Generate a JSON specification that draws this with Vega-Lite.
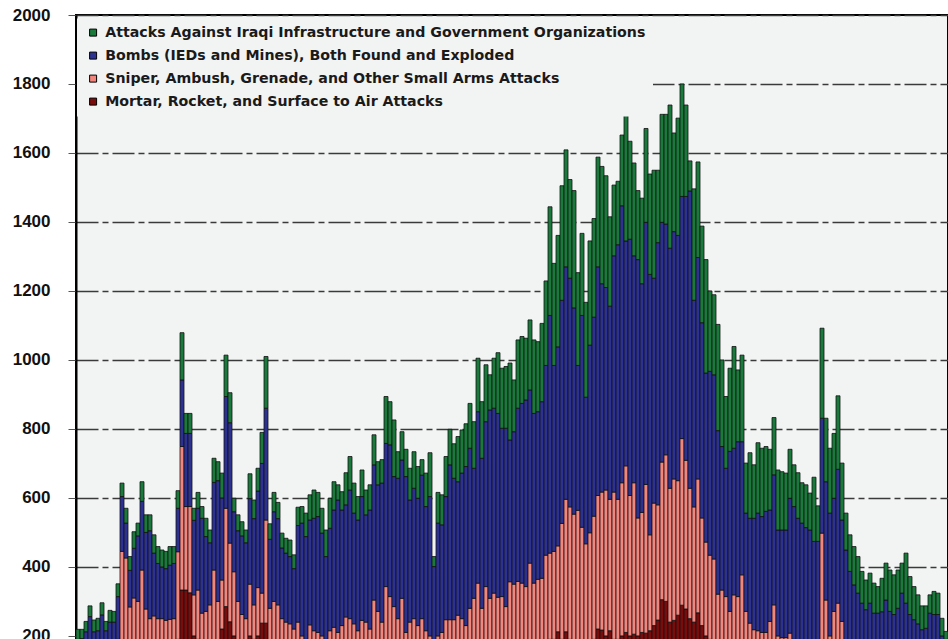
{
"$schema":"https://vega.github.io/schema/vega-lite/v6.json",
"width":872,"height":624,
"autosize":{"type":"none"},
"padding":{"left":76,"top":15,"right":0,"bottom":0},
"background":"white",
"config":{"view":{"fill":"#f2f3f3","stroke":"#000","strokeWidth":2},"font":"Liberation Sans"},
"data":{"values":[
{"week":0,"1_mortar":70,"2_arms":60,"3_bombs":60,"4_infra":29},
{"week":1,"1_mortar":70,"2_arms":60,"3_bombs":62,"4_infra":27},
{"week":2,"1_mortar":70,"2_arms":70,"3_bombs":72,"4_infra":30},
{"week":3,"1_mortar":80,"2_arms":70,"3_bombs":106,"4_infra":31},
{"week":4,"1_mortar":70,"2_arms":70,"3_bombs":72,"4_infra":34},
{"week":5,"1_mortar":70,"2_arms":70,"3_bombs":75,"4_infra":36},
{"week":6,"1_mortar":80,"2_arms":80,"3_bombs":101,"4_infra":35},
{"week":7,"1_mortar":70,"2_arms":70,"3_bombs":75,"4_infra":27},
{"week":8,"1_mortar":80,"2_arms":70,"3_bombs":90,"4_infra":34},
{"week":9,"1_mortar":80,"2_arms":70,"3_bombs":90,"4_infra":31},
{"week":10,"1_mortar":90,"2_arms":100,"3_bombs":124,"4_infra":37},
{"week":11,"1_mortar":150,"2_arms":295,"3_bombs":159,"4_infra":39},
{"week":12,"1_mortar":150,"2_arms":276,"3_bombs":101,"4_infra":43},
{"week":13,"1_mortar":140,"2_arms":144,"3_bombs":106,"4_infra":40},
{"week":14,"1_mortar":150,"2_arms":160,"3_bombs":144,"4_infra":48},
{"week":15,"1_mortar":150,"2_arms":150,"3_bombs":190,"4_infra":37},
{"week":16,"1_mortar":160,"2_arms":231,"3_bombs":199,"4_infra":57},
{"week":17,"1_mortar":150,"2_arms":128,"3_bombs":222,"4_infra":51},
{"week":18,"1_mortar":140,"2_arms":110,"3_bombs":255,"4_infra":46},
{"week":19,"1_mortar":140,"2_arms":118,"3_bombs":182,"4_infra":53},
{"week":20,"1_mortar":140,"2_arms":110,"3_bombs":160,"4_infra":49},
{"week":21,"1_mortar":130,"2_arms":120,"3_bombs":150,"4_infra":49},
{"week":22,"1_mortar":130,"2_arms":115,"3_bombs":150,"4_infra":50},
{"week":23,"1_mortar":140,"2_arms":108,"3_bombs":157,"4_infra":54},
{"week":24,"1_mortar":150,"2_arms":100,"3_bombs":160,"4_infra":49},
{"week":25,"1_mortar":190,"2_arms":254,"3_bombs":126,"4_infra":51},
{"week":26,"1_mortar":333,"2_arms":416,"3_bombs":193,"4_infra":137},
{"week":27,"1_mortar":333,"2_arms":242,"3_bombs":212,"4_infra":58},
{"week":28,"1_mortar":325,"2_arms":250,"3_bombs":212,"4_infra":58},
{"week":29,"1_mortar":200,"2_arms":119,"3_bombs":216,"4_infra":35},
{"week":30,"1_mortar":190,"2_arms":143,"3_bombs":237,"4_infra":46},
{"week":31,"1_mortar":170,"2_arms":96,"3_bombs":275,"4_infra":34},
{"week":32,"1_mortar":160,"2_arms":111,"3_bombs":217,"4_infra":53},
{"week":33,"1_mortar":170,"2_arms":120,"3_bombs":180,"4_infra":37},
{"week":34,"1_mortar":180,"2_arms":211,"3_bombs":254,"4_infra":70},
{"week":35,"1_mortar":180,"2_arms":120,"3_bombs":350,"4_infra":55},
{"week":36,"1_mortar":220,"2_arms":142,"3_bombs":238,"4_infra":72},
{"week":37,"1_mortar":285,"2_arms":285,"3_bombs":324,"4_infra":120},
{"week":38,"1_mortar":241,"2_arms":228,"3_bombs":349,"4_infra":87},
{"week":39,"1_mortar":200,"2_arms":186,"3_bombs":174,"4_infra":39},
{"week":40,"1_mortar":170,"2_arms":130,"3_bombs":205,"4_infra":46},
{"week":41,"1_mortar":160,"2_arms":102,"3_bombs":228,"4_infra":41},
{"week":42,"1_mortar":150,"2_arms":100,"3_bombs":220,"4_infra":37},
{"week":43,"1_mortar":200,"2_arms":150,"3_bombs":248,"4_infra":72},
{"week":44,"1_mortar":190,"2_arms":100,"3_bombs":250,"4_infra":54},
{"week":45,"1_mortar":200,"2_arms":140,"3_bombs":280,"4_infra":66},
{"week":46,"1_mortar":237,"2_arms":87,"3_bombs":376,"4_infra":90},
{"week":47,"1_mortar":237,"2_arms":299,"3_bombs":324,"4_infra":150},
{"week":48,"1_mortar":160,"2_arms":120,"3_bombs":200,"4_infra":45},
{"week":49,"1_mortar":180,"2_arms":120,"3_bombs":260,"4_infra":56},
{"week":50,"1_mortar":170,"2_arms":120,"3_bombs":250,"4_infra":47},
{"week":51,"1_mortar":150,"2_arms":100,"3_bombs":205,"4_infra":43},
{"week":52,"1_mortar":150,"2_arms":90,"3_bombs":200,"4_infra":43},
{"week":53,"1_mortar":140,"2_arms":95,"3_bombs":195,"4_infra":48},
{"week":54,"1_mortar":130,"2_arms":90,"3_bombs":175,"4_infra":40},
{"week":55,"1_mortar":150,"2_arms":90,"3_bombs":280,"4_infra":53},
{"week":56,"1_mortar":100,"2_arms":100,"3_bombs":327,"4_infra":48},
{"week":57,"1_mortar":100,"2_arms":90,"3_bombs":298,"4_infra":68},
{"week":58,"1_mortar":110,"2_arms":122,"3_bombs":304,"4_infra":73},
{"week":59,"1_mortar":110,"2_arms":105,"3_bombs":326,"4_infra":82},
{"week":60,"1_mortar":100,"2_arms":110,"3_bombs":336,"4_infra":70},
{"week":61,"1_mortar":100,"2_arms":100,"3_bombs":298,"4_infra":72},
{"week":62,"1_mortar":100,"2_arms":90,"3_bombs":240,"4_infra":77},
{"week":63,"1_mortar":110,"2_arms":105,"3_bombs":297,"4_infra":87},
{"week":64,"1_mortar":110,"2_arms":115,"3_bombs":340,"4_infra":82},
{"week":65,"1_mortar":100,"2_arms":110,"3_bombs":384,"4_infra":44},
{"week":66,"1_mortar":110,"2_arms":120,"3_bombs":335,"4_infra":53},
{"week":67,"1_mortar":120,"2_arms":135,"3_bombs":325,"4_infra":93},
{"week":68,"1_mortar":120,"2_arms":130,"3_bombs":373,"4_infra":97},
{"week":69,"1_mortar":110,"2_arms":125,"3_bombs":321,"4_infra":87},
{"week":70,"1_mortar":100,"2_arms":115,"3_bombs":321,"4_infra":68},
{"week":71,"1_mortar":110,"2_arms":135,"3_bombs":359,"4_infra":77},
{"week":72,"1_mortar":110,"2_arms":130,"3_bombs":311,"4_infra":72},
{"week":73,"1_mortar":110,"2_arms":110,"3_bombs":345,"4_infra":73},
{"week":74,"1_mortar":130,"2_arms":174,"3_bombs":392,"4_infra":87},
{"week":75,"1_mortar":120,"2_arms":151,"3_bombs":367,"4_infra":67},
{"week":76,"1_mortar":110,"2_arms":130,"3_bombs":403,"4_infra":68},
{"week":77,"1_mortar":140,"2_arms":203,"3_bombs":415,"4_infra":136},
{"week":78,"1_mortar":140,"2_arms":174,"3_bombs":440,"4_infra":125},
{"week":79,"1_mortar":130,"2_arms":155,"3_bombs":377,"4_infra":164},
{"week":80,"1_mortar":120,"2_arms":130,"3_bombs":407,"4_infra":77},
{"week":81,"1_mortar":130,"2_arms":179,"3_bombs":401,"4_infra":82},
{"week":82,"1_mortar":110,"2_arms":100,"3_bombs":452,"4_infra":79},
{"week":83,"1_mortar":110,"2_arms":130,"3_bombs":354,"4_infra":92},
{"week":84,"1_mortar":120,"2_arms":130,"3_bombs":378,"4_infra":106},
{"week":85,"1_mortar":110,"2_arms":120,"3_bombs":369,"4_infra":92},
{"week":86,"1_mortar":110,"2_arms":140,"3_bombs":416,"4_infra":45},
{"week":87,"1_mortar":100,"2_arms":115,"3_bombs":360,"4_infra":97},
{"week":88,"1_mortar":100,"2_arms":100,"3_bombs":404,"4_infra":127},
{"week":89,"1_mortar":80,"2_arms":70,"3_bombs":251,"4_infra":29},
{"week":90,"1_mortar":100,"2_arms":100,"3_bombs":327,"4_infra":89},
{"week":91,"1_mortar":100,"2_arms":110,"3_bombs":312,"4_infra":87},
{"week":92,"1_mortar":110,"2_arms":137,"3_bombs":357,"4_infra":116},
{"week":93,"1_mortar":120,"2_arms":127,"3_bombs":449,"4_infra":103},
{"week":94,"1_mortar":120,"2_arms":127,"3_bombs":410,"4_infra":100},
{"week":95,"1_mortar":120,"2_arms":140,"3_bombs":387,"4_infra":131},
{"week":96,"1_mortar":120,"2_arms":130,"3_bombs":422,"4_infra":125},
{"week":97,"1_mortar":110,"2_arms":120,"3_bombs":461,"4_infra":124},
{"week":98,"1_mortar":130,"2_arms":150,"3_bombs":464,"4_infra":130},
{"week":99,"1_mortar":140,"2_arms":169,"3_bombs":377,"4_infra":135},
{"week":100,"1_mortar":150,"2_arms":203,"3_bombs":497,"4_infra":155},
{"week":101,"1_mortar":130,"2_arms":150,"3_bombs":435,"4_infra":164},
{"week":102,"1_mortar":150,"2_arms":193,"3_bombs":478,"4_infra":165},
{"week":103,"1_mortar":140,"2_arms":169,"3_bombs":546,"4_infra":102},
{"week":104,"1_mortar":150,"2_arms":174,"3_bombs":536,"4_infra":145},
{"week":105,"1_mortar":150,"2_arms":162,"3_bombs":533,"4_infra":176},
{"week":106,"1_mortar":150,"2_arms":164,"3_bombs":488,"4_infra":174},
{"week":107,"1_mortar":140,"2_arms":145,"3_bombs":517,"4_infra":179},
{"week":108,"1_mortar":150,"2_arms":207,"3_bombs":411,"4_infra":223},
{"week":109,"1_mortar":150,"2_arms":200,"3_bombs":442,"4_infra":150},
{"week":110,"1_mortar":160,"2_arms":198,"3_bombs":502,"4_infra":198},
{"week":111,"1_mortar":160,"2_arms":193,"3_bombs":521,"4_infra":194},
{"week":112,"1_mortar":160,"2_arms":183,"3_bombs":541,"4_infra":179},
{"week":113,"1_mortar":170,"2_arms":241,"3_bombs":502,"4_infra":203},
{"week":114,"1_mortar":160,"2_arms":193,"3_bombs":492,"4_infra":213},
{"week":115,"1_mortar":160,"2_arms":204,"3_bombs":486,"4_infra":203},
{"week":116,"1_mortar":170,"2_arms":197,"3_bombs":512,"4_infra":227},
{"week":117,"1_mortar":180,"2_arms":254,"3_bombs":550,"4_infra":245},
{"week":118,"1_mortar":190,"2_arms":250,"3_bombs":689,"4_infra":315},
{"week":119,"1_mortar":190,"2_arms":255,"3_bombs":539,"4_infra":296},
{"week":120,"1_mortar":212,"2_arms":249,"3_bombs":577,"4_infra":323},
{"week":121,"1_mortar":190,"2_arms":336,"3_bombs":647,"4_infra":332},
{"week":122,"1_mortar":212,"2_arms":384,"3_bombs":674,"4_infra":339},
{"week":123,"1_mortar":190,"2_arms":384,"3_bombs":663,"4_infra":286},
{"week":124,"1_mortar":180,"2_arms":373,"3_bombs":598,"4_infra":340},
{"week":125,"1_mortar":180,"2_arms":384,"3_bombs":420,"4_infra":269},
{"week":126,"1_mortar":180,"2_arms":335,"3_bombs":614,"4_infra":238},
{"week":127,"1_mortar":170,"2_arms":297,"3_bombs":425,"4_infra":275},
{"week":128,"1_mortar":180,"2_arms":319,"3_bombs":544,"4_infra":302},
{"week":129,"1_mortar":190,"2_arms":357,"3_bombs":577,"4_infra":286},
{"week":130,"1_mortar":220,"2_arms":387,"3_bombs":663,"4_infra":318},
{"week":131,"1_mortar":217,"2_arms":400,"3_bombs":604,"4_infra":340},
{"week":132,"1_mortar":200,"2_arms":423,"3_bombs":587,"4_infra":324},
{"week":133,"1_mortar":215,"2_arms":381,"3_bombs":560,"4_infra":259},
{"week":134,"1_mortar":190,"2_arms":427,"3_bombs":685,"4_infra":205},
{"week":135,"1_mortar":190,"2_arms":406,"3_bombs":738,"4_infra":184},
{"week":136,"1_mortar":200,"2_arms":444,"3_bombs":803,"4_infra":205},
{"week":137,"1_mortar":210,"2_arms":483,"3_bombs":652,"4_infra":367},
{"week":138,"1_mortar":200,"2_arms":407,"3_bombs":743,"4_infra":284},
{"week":139,"1_mortar":205,"2_arms":439,"3_bombs":658,"4_infra":269},
{"week":140,"1_mortar":200,"2_arms":342,"3_bombs":749,"4_infra":200},
{"week":141,"1_mortar":210,"2_arms":348,"3_bombs":663,"4_infra":248},
{"week":142,"1_mortar":208,"2_arms":431,"3_bombs":760,"4_infra":272},
{"week":143,"1_mortar":215,"2_arms":278,"3_bombs":755,"4_infra":291},
{"week":144,"1_mortar":230,"2_arms":355,"3_bombs":652,"4_infra":313},
{"week":145,"1_mortar":246,"2_arms":334,"3_bombs":760,"4_infra":210},
{"week":146,"1_mortar":305,"2_arms":399,"3_bombs":695,"4_infra":313},
{"week":147,"1_mortar":300,"2_arms":425,"3_bombs":669,"4_infra":318},
{"week":148,"1_mortar":240,"2_arms":388,"3_bombs":696,"4_infra":415},
{"week":149,"1_mortar":245,"2_arms":410,"3_bombs":717,"4_infra":286},
{"week":150,"1_mortar":260,"2_arms":390,"3_bombs":711,"4_infra":340},
{"week":151,"1_mortar":289,"2_arms":483,"3_bombs":702,"4_infra":326},
{"week":152,"1_mortar":278,"2_arms":431,"3_bombs":765,"4_infra":265},
{"week":153,"1_mortar":250,"2_arms":378,"3_bombs":862,"4_infra":87},
{"week":154,"1_mortar":240,"2_arms":334,"3_bombs":599,"4_infra":323},
{"week":155,"1_mortar":267,"2_arms":388,"3_bombs":642,"4_infra":277},
{"week":156,"1_mortar":230,"2_arms":312,"3_bombs":566,"4_infra":280},
{"week":157,"1_mortar":200,"2_arms":272,"3_bombs":490,"4_infra":329},
{"week":158,"1_mortar":190,"2_arms":244,"3_bombs":533,"4_infra":233},
{"week":159,"1_mortar":180,"2_arms":243,"3_bombs":534,"4_infra":232},
{"week":160,"1_mortar":170,"2_arms":151,"3_bombs":474,"4_infra":308},
{"week":161,"1_mortar":160,"2_arms":173,"3_bombs":416,"4_infra":251},
{"week":162,"1_mortar":150,"2_arms":164,"3_bombs":372,"4_infra":208},
{"week":163,"1_mortar":140,"2_arms":131,"3_bombs":464,"4_infra":241},
{"week":164,"1_mortar":150,"2_arms":169,"3_bombs":425,"4_infra":295},
{"week":165,"1_mortar":150,"2_arms":164,"3_bombs":449,"4_infra":208},
{"week":166,"1_mortar":160,"2_arms":217,"3_bombs":386,"4_infra":251},
{"week":167,"1_mortar":130,"2_arms":141,"3_bombs":285,"4_infra":145},
{"week":168,"1_mortar":120,"2_arms":117,"3_bombs":304,"4_infra":190},
{"week":169,"1_mortar":110,"2_arms":108,"3_bombs":323,"4_infra":155},
{"week":170,"1_mortar":110,"2_arms":105,"3_bombs":341,"4_infra":204},
{"week":171,"1_mortar":110,"2_arms":100,"3_bombs":336,"4_infra":198},
{"week":172,"1_mortar":110,"2_arms":100,"3_bombs":351,"4_infra":188},
{"week":173,"1_mortar":120,"2_arms":122,"3_bombs":323,"4_infra":176},
{"week":174,"1_mortar":130,"2_arms":160,"3_bombs":377,"4_infra":166},
{"week":175,"1_mortar":100,"2_arms":100,"3_bombs":307,"4_infra":174},
{"week":176,"1_mortar":100,"2_arms":95,"3_bombs":312,"4_infra":169},
{"week":177,"1_mortar":100,"2_arms":95,"3_bombs":312,"4_infra":165},
{"week":178,"1_mortar":100,"2_arms":108,"3_bombs":391,"4_infra":142},
{"week":179,"1_mortar":100,"2_arms":90,"3_bombs":385,"4_infra":121},
{"week":180,"1_mortar":90,"2_arms":95,"3_bombs":356,"4_infra":132},
{"week":181,"1_mortar":90,"2_arms":90,"3_bombs":347,"4_infra":117},
{"week":182,"1_mortar":90,"2_arms":90,"3_bombs":334,"4_infra":124},
{"week":183,"1_mortar":90,"2_arms":85,"3_bombs":332,"4_infra":107},
{"week":184,"1_mortar":90,"2_arms":80,"3_bombs":304,"4_infra":186},
{"week":185,"1_mortar":90,"2_arms":80,"3_bombs":304,"4_infra":103},
{"week":186,"1_mortar":150,"2_arms":348,"3_bombs":333,"4_infra":261},
{"week":187,"1_mortar":130,"2_arms":174,"3_bombs":343,"4_infra":184},
{"week":188,"1_mortar":100,"2_arms":100,"3_bombs":356,"4_infra":188},
{"week":189,"1_mortar":120,"2_arms":151,"3_bombs":328,"4_infra":188},
{"week":190,"1_mortar":130,"2_arms":165,"3_bombs":388,"4_infra":213},
{"week":191,"1_mortar":110,"2_arms":132,"3_bombs":294,"4_infra":165},
{"week":192,"1_mortar":90,"2_arms":90,"3_bombs":269,"4_infra":107},
{"week":193,"1_mortar":80,"2_arms":90,"3_bombs":217,"4_infra":106},
{"week":194,"1_mortar":80,"2_arms":80,"3_bombs":188,"4_infra":111},
{"week":195,"1_mortar":80,"2_arms":70,"3_bombs":174,"4_infra":106},
{"week":196,"1_mortar":80,"2_arms":70,"3_bombs":145,"4_infra":92},
{"week":197,"1_mortar":70,"2_arms":70,"3_bombs":136,"4_infra":86},
{"week":198,"1_mortar":70,"2_arms":70,"3_bombs":155,"4_infra":87},
{"week":199,"1_mortar":70,"2_arms":60,"3_bombs":136,"4_infra":87},
{"week":200,"1_mortar":70,"2_arms":60,"3_bombs":136,"4_infra":77},
{"week":201,"1_mortar":70,"2_arms":60,"3_bombs":140,"4_infra":97},
{"week":202,"1_mortar":70,"2_arms":70,"3_bombs":164,"4_infra":107},
{"week":203,"1_mortar":70,"2_arms":60,"3_bombs":141,"4_infra":120},
{"week":204,"1_mortar":70,"2_arms":60,"3_bombs":132,"4_infra":115},
{"week":205,"1_mortar":70,"2_arms":60,"3_bombs":150,"4_infra":111},
{"week":206,"1_mortar":70,"2_arms":70,"3_bombs":184,"4_infra":87},
{"week":207,"1_mortar":70,"2_arms":70,"3_bombs":155,"4_infra":145},
{"week":208,"1_mortar":70,"2_arms":60,"3_bombs":132,"4_infra":110},
{"week":209,"1_mortar":60,"2_arms":60,"3_bombs":127,"4_infra":96},
{"week":210,"1_mortar":60,"2_arms":60,"3_bombs":115,"4_infra":84},
{"week":211,"1_mortar":60,"2_arms":50,"3_bombs":108,"4_infra":69},
{"week":212,"1_mortar":60,"2_arms":50,"3_bombs":112,"4_infra":65},
{"week":213,"1_mortar":60,"2_arms":60,"3_bombs":146,"4_infra":53},
{"week":214,"1_mortar":60,"2_arms":60,"3_bombs":142,"4_infra":67},
{"week":215,"1_mortar":60,"2_arms":60,"3_bombs":142,"4_infra":62},
{"week":216,"1_mortar":50,"2_arms":50,"3_bombs":100,"4_infra":51},
{"week":217,"1_mortar":50,"2_arms":50,"3_bombs":90,"4_infra":23}
]},
"transform":[{"fold":["1_mortar","2_arms","3_bombs","4_infra"],"as":["series","count"]}],
"mark":{"type":"bar","clip":true,"stroke":"#111","strokeWidth":0.8},
"encoding":{
"x":{"field":"week","type":"ordinal","axis":null,"scale":{"paddingInner":0,"paddingOuter":0}},
"y":{"field":"count","type":"quantitative","stack":"zero","scale":{"domain":[191,2000],"nice":false,"zero":false},
"axis":{"values":[200,400,600,800,1000,1200,1400,1600,1800,2000],"format":"d","title":null,"domainColor":"#000","domainWidth":2,"tickSize":8,"tickColor":"#555","tickWidth":1,"labelFont":"Liberation Sans","labelFontSize":17,"labelFontWeight":"bold","labelColor":"#111","labelPadding":18,"grid":true,"gridColor":"#3a3a3a","gridWidth":1.5,"gridDash":[22,4,6,4]}},
"color":{"field":"series","type":"nominal","scale":{"domain":["4_infra","3_bombs","2_arms","1_mortar"],"range":["#1a7a3c","#2d3192","#f2857d","#7b0c0c"]},
"legend":{"orient":"none","legendX":1,"legendY":3.5,"title":null,"fillColor":"#f2f3f3","padding":7,"symbolOffset":2,"symbolType":"square","symbolSize":49,"symbolStrokeColor":"#000","symbolStrokeWidth":1,"labelFont":"DejaVu Sans","labelFontSize":14.2,"labelFontWeight":"bold","labelColor":"#1a1a1a","rowPadding":8,"labelOffset":5,"labelLimit":700,
"labelExpr":"datum.label == '4_infra' ? 'Attacks Against Iraqi Infrastructure and Government Organizations' : datum.label == '3_bombs' ? 'Bombs (IEDs and Mines), Both Found and Exploded' : datum.label == '2_arms' ? 'Sniper, Ambush, Grenade, and Other Small Arms Attacks' : 'Mortar, Rocket, and Surface to Air Attacks'"}},
"order":{"field":"series","sort":"ascending"}
}
}
